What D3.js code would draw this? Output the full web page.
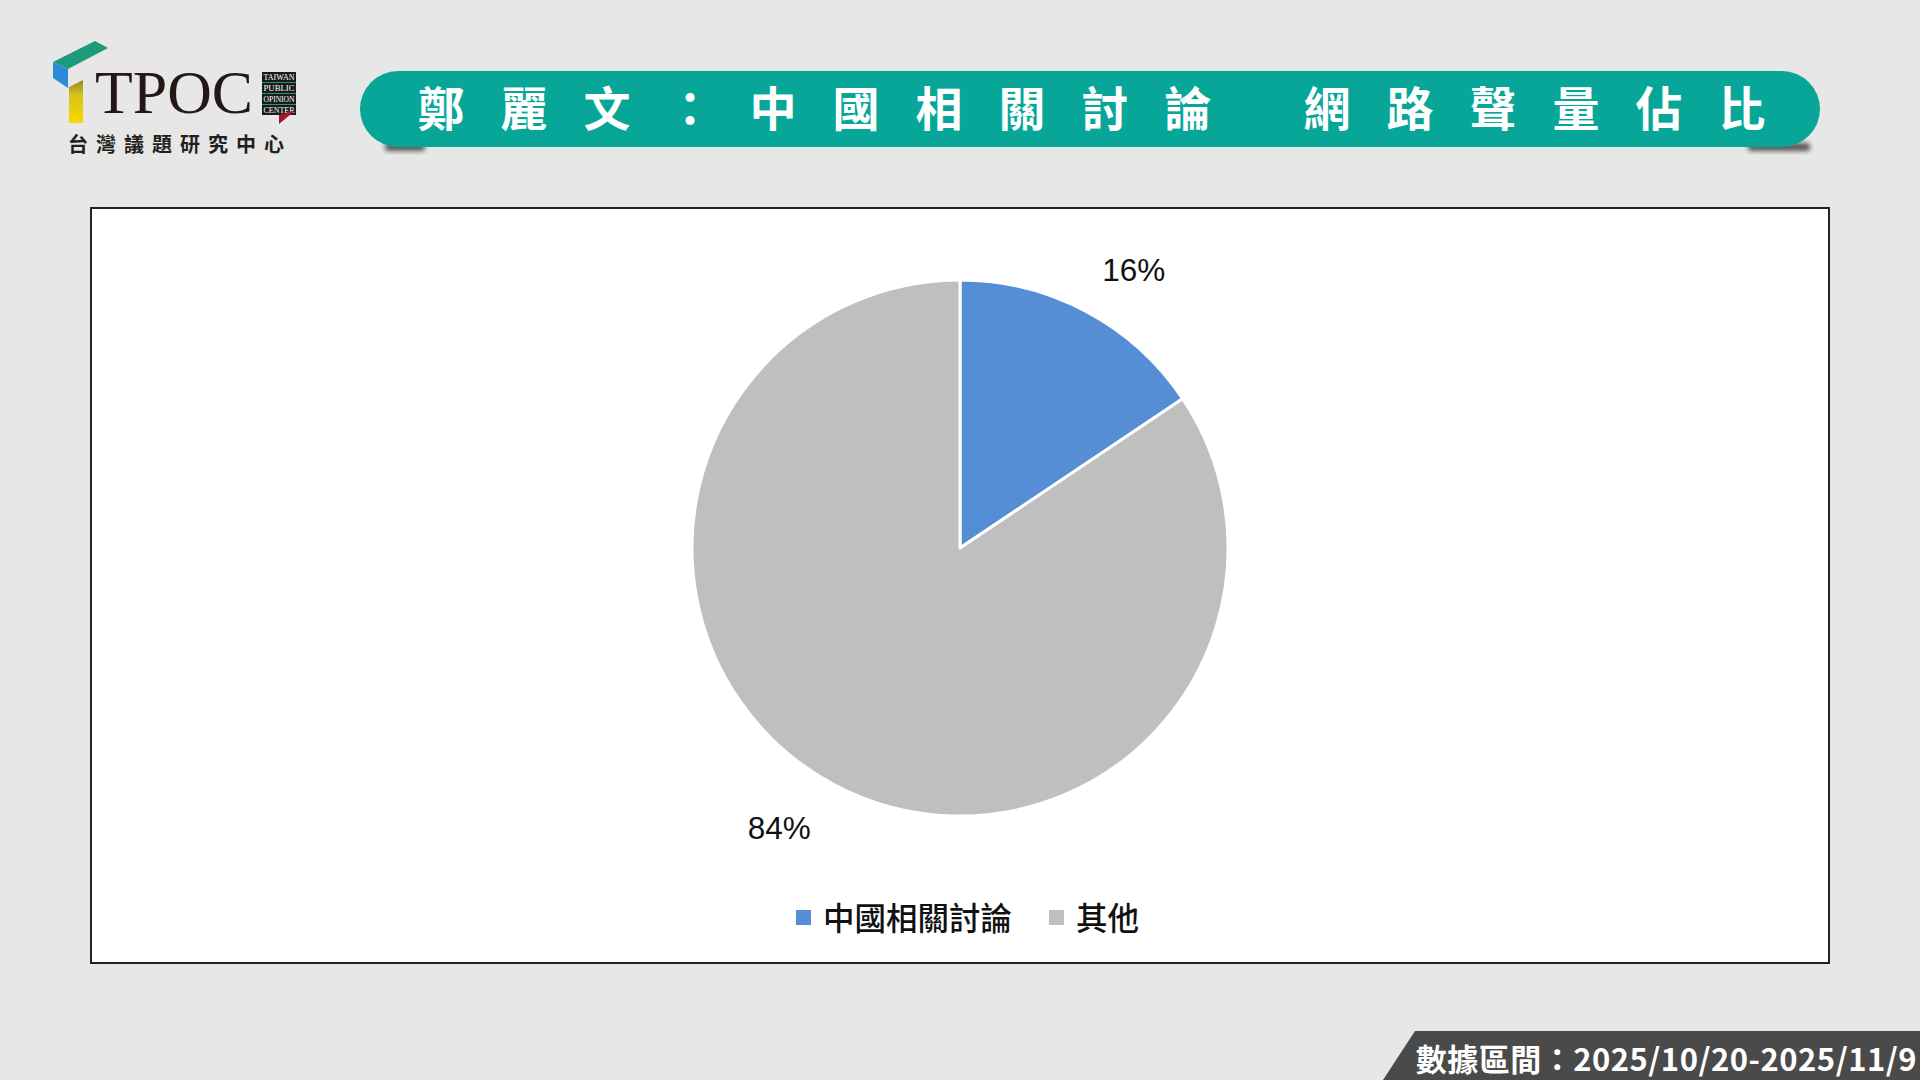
<!DOCTYPE html>
<html>
<head>
<meta charset="utf-8">
<script src="https://cdn.jsdelivr.net/npm/d3@7"></script>
<style>
  html, body { margin: 0; padding: 0; background: #e7e7e7; }
  svg { display: block; }
</style>
</head>
<body>
<svg id="chart" width="1920" height="1080"></svg>
<script>
// ---- data ----
const categories = ["中國相關討論", "其他"];
const values = [15.6, 84.4];
const colors = ["#558ed5", "#bfbfbf"];
const titlePart1 = "鄭麗文：中國相關討論";
const titlePart2 = "網路聲量佔比";
const footerText = "數據區間：2025/10/20-2025/11/9";
const logoSmallLines = ["TAIWAN", "PUBLIC", "OPINION", "CENTER"];
const logoSubtitle = "台灣議題研究中心";

const svg = d3.select("#chart");
const defs = svg.append("defs");

// background
svg.append("rect").attr("width", 1920).attr("height", 1080).attr("fill", "#e7e7e7");

// ---- logo ----
const logo = svg.append("g");
const yg = defs.append("linearGradient").attr("id", "yg").attr("x1", 0).attr("y1", 0).attr("x2", 0).attr("y2", 1);
yg.append("stop").attr("offset", "0%").attr("stop-color", "#8a8a2a");
yg.append("stop").attr("offset", "35%").attr("stop-color", "#d9c21a");
yg.append("stop").attr("offset", "100%").attr("stop-color", "#f7d900");
logo.append("polygon").attr("points", "53,62 95,41 108,48 68,69").attr("fill", "#1d9a7c");
logo.append("polygon").attr("points", "53,62 68,69 68,88 53,78").attr("fill", "#2b8bd8");
logo.append("polygon").attr("points", "69,87 83,80 83,123 69,123").attr("fill", "url(#yg)");
logo.append("text").attr("x", 95).attr("y", 113)
  .attr("font-family", "'Liberation Serif', 'DejaVu Serif', serif")
  .attr("font-size", 62).attr("fill", "#231815")
  .attr("textLength", 158).attr("lengthAdjust", "spacingAndGlyphs")
  .text("TPOC");
logo.append("rect").attr("x", 262).attr("y", 72).attr("width", 34).attr("height", 43).attr("fill", "#1d9a7c");
logoSmallLines.forEach((t, i) => {
  logo.append("rect").attr("x", 262).attr("y", 72 + i * 11).attr("width", 34).attr("height", 10).attr("fill", "#1a1a1a");
  logo.append("text").attr("x", 279).attr("y", 72 + i * 11 + 8)
    .attr("text-anchor", "middle")
    .attr("font-family", "'Liberation Serif', serif").attr("font-size", 8.5)
    .attr("fill", "#ffffff")
    .attr("textLength", 31).attr("lengthAdjust", "spacingAndGlyphs")
    .text(t);
});
logo.append("polygon").attr("points", "279,115 296,110 279,124").attr("fill", "#a3172a");
logo.append("text").attr("x", 68).attr("y", 143)
  .attr("dominant-baseline", "central")
  .attr("font-family", "'Noto Sans CJK TC', sans-serif").attr("font-weight", 700)
  .attr("font-size", 20).attr("letter-spacing", 8).attr("fill", "#231f20")
  .text(logoSubtitle);

// ---- title bar ----
const blur = defs.append("filter").attr("id", "blur").attr("x", "-50%").attr("y", "-50%").attr("width", "200%").attr("height", "200%");
blur.append("feGaussianBlur").attr("stdDeviation", 2.5);
svg.append("rect").attr("x", 385).attr("y", 143).attr("width", 40).attr("height", 8).attr("rx", 3)
  .attr("fill", "#555").attr("filter", "url(#blur)");
svg.append("rect").attr("x", 1748).attr("y", 143).attr("width", 62).attr("height", 8).attr("rx", 3)
  .attr("fill", "#555").attr("filter", "url(#blur)");
svg.append("rect").attr("x", 360).attr("y", 71).attr("width", 1460).attr("height", 76)
  .attr("rx", 38).attr("ry", 38).attr("fill", "#07a698");

const pitch = 83;
const titleG = svg.append("g")
  .attr("font-family", "'Noto Sans CJK TC', sans-serif")
  .attr("font-weight", 700).attr("font-size", 47).attr("fill", "#ffffff");
Array.from(titlePart1).forEach((c, i) => {
  titleG.append("text").attr("x", 441 + i * pitch).attr("y", 105)
    .attr("text-anchor", "middle").attr("dominant-baseline", "central").text(c);
});
const p2 = Array.from(titlePart2);
p2.forEach((c, i) => {
  titleG.append("text").attr("x", 1742 - (p2.length - 1 - i) * pitch).attr("y", 105)
    .attr("text-anchor", "middle").attr("dominant-baseline", "central").text(c);
});

// ---- chart box ----
svg.append("rect").attr("x", 91).attr("y", 208).attr("width", 1738).attr("height", 755)
  .attr("fill", "#ffffff").attr("stroke", "#222222").attr("stroke-width", 2);

// ---- pie ----
const cx = 960, cy = 548, r = 268;
const pie = d3.pie().sort(null).value(d => d);
const arcs = pie(values);
const arc = d3.arc().innerRadius(0).outerRadius(r);
const labelArc = d3.arc().innerRadius(302).outerRadius(302);
const total = d3.sum(values);

const pg = svg.append("g").attr("transform", `translate(${cx},${cy})`);
pg.selectAll("path.slice").data(arcs).join("path")
  .attr("class", "slice")
  .attr("d", arc)
  .attr("fill", (d, i) => colors[i])
  .attr("stroke", "#ffffff").attr("stroke-width", 3).attr("stroke-linejoin", "round");

pg.selectAll("text.lbl").data(arcs).join("text")
  .attr("class", "lbl")
  .each(function (d) {
    const [x, y] = labelArc.centroid(d);
    const sel = d3.select(this);
    sel.attr("x", x + (x < 0 ? -7 : 0)).attr("y", y + (y < 0 ? -12 : 14))
      .attr("text-anchor", x >= 0 ? "start" : "end")
      .attr("dominant-baseline", "central");
  })
  .attr("font-family", "'Liberation Sans', Arial, sans-serif")
  .attr("font-size", 31.5).attr("fill", "#111111")
  .text(d => Math.round(d.data / total * 100) + "%");

// ---- legend ----
const legendItems = [
  { x: 796, tx: 823 },
  { x: 1049, tx: 1076 }
];
const lg = svg.append("g");
categories.forEach((c, i) => {
  lg.append("rect").attr("x", legendItems[i].x).attr("y", 910).attr("width", 15).attr("height", 15).attr("fill", colors[i]);
  lg.append("text").attr("x", legendItems[i].tx).attr("y", 916)
    .attr("dominant-baseline", "central")
    .attr("font-family", "'Noto Sans CJK TC', sans-serif").attr("font-size", 31.5)
    .attr("font-weight", 500)
    .attr("fill", "#111111").text(c);
});

// ---- footer ----
svg.append("polygon").attr("points", "1415,1031 1920,1031 1920,1080 1383,1080").attr("fill", "#4a4a4a");
svg.append("text").attr("x", 1917).attr("y", 1071)
  .attr("text-anchor", "end")
  .attr("font-family", "'Noto Sans CJK TC', sans-serif").attr("font-weight", 700)
  .attr("font-size", 31).attr("letter-spacing", 0.5).attr("fill", "#ffffff").text(footerText);
</script>
</body>
</html>
